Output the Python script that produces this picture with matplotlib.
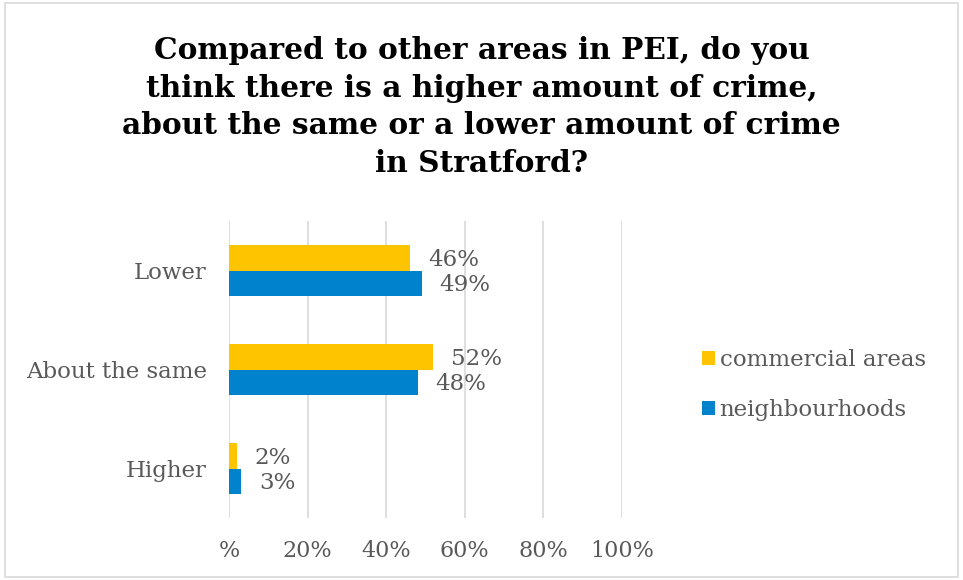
import numpy as np
import matplotlib.pyplot as plt
from matplotlib.patches import Rectangle

# survey answers, bottom to top
categories = ["Higher", "About the same", "Lower"]
commercial = [2, 52, 46]
neighbourhoods = [3, 48, 49]
tick_labels = ["%", "20%", "40%", "60%", "80%", "100%"]

title = ("Compared to other areas in PEI, do you\n"
         "think there is a higher amount of crime,\n"
         "about the same or a lower amount of crime\n"
         "in Stratford?")

grey = "#595959"
plt.rcParams['font.family'] = ['DejaVu Serif']

fig = plt.figure(figsize=(9.63, 5.80), dpi=100)
ax = fig.add_axes([229 / 963, 1 - 518 / 580, 393 / 963, 297 / 580])

y = np.arange(len(categories))
h = 0.26
b1 = ax.barh(y + h / 2, commercial, height=h, color="#FFC400", label="commercial areas", zorder=3)
b2 = ax.barh(y - h / 2, neighbourhoods, height=h, color="#0083CC", label="neighbourhoods", zorder=3)

for bars, vals in ((b1, commercial), (b2, neighbourhoods)):
    for bar, v in zip(bars, vals):
        ax.annotate(f"{v}%", (v, bar.get_y() + bar.get_height() / 2),
                    xytext=(13, -1.5), textcoords="offset points",
                    va="center", ha="left", fontsize=16.5, color=grey)

ax.set_xlim(0, 100)
ax.set_ylim(-0.5, 2.5)
ax.set_xticks(np.arange(0, 101, 20))
ax.set_xticklabels(tick_labels)
ax.set_yticks(y)
ax.set_yticklabels(categories)
ax.tick_params(axis="x", length=0, pad=15.5, labelsize=16, labelcolor=grey)
ax.tick_params(axis="y", length=0, pad=16, labelsize=16.5, labelcolor=grey)
ax.grid(axis="x", color="#D9D9D9", linewidth=1.2, zorder=0)
for s in ax.spines.values():
    s.set_visible(False)

fig.text(0.5, 1 - 107 / 580, title, ha="center", va="center",
         fontsize=21.3, fontweight="bold", color="black", linespacing=1.39)

handles, labels = ax.get_legend_handles_labels()
fig.legend(handles, labels, loc="center left",
           bbox_to_anchor=(681 / 963, 1 - 385 / 580), frameon=False,
           fontsize=16.5, labelcolor=grey, handlelength=0.57, handleheight=0.57,
           handletextpad=0.22, labelspacing=1.2)

fig.patches.append(Rectangle((5 / 963, 3 / 580), 953 / 963, 574 / 580,
                             transform=fig.transFigure, fill=False,
                             edgecolor="#D9D9D9", linewidth=1.2))

fig.savefig("out.png", dpi=100)
